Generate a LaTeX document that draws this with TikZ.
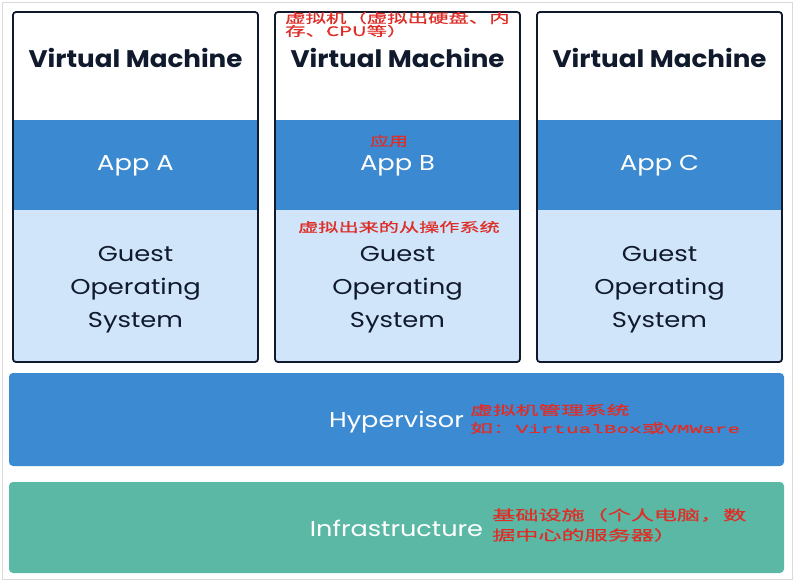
\documentclass[tikz,border=0pt]{standalone}
\usepackage{fontspec}
\usepackage{graphicx}
\newfontfamily\pop{Poppins}
\newfontfamily\cjk[FakeBold=0.6]{Noto Sans CJK SC}
\newfontfamily\mono[FakeBold=0.6]{Liberation Mono}
\newcommand{\wide}[2]{\scalebox{#1}[1]{#2}}
\definecolor{appblue}{HTML}{3B89D0}
\definecolor{guestblue}{HTML}{D0E5F9}
\definecolor{hyperblue}{HTML}{3C8AD2}
\definecolor{infragreen}{HTML}{5BB8A5}
\definecolor{navy}{HTML}{101A2C}
\definecolor{annot}{HTML}{DE2E28}
\definecolor{frame}{HTML}{DADADA}
\tikzset{
  vmbox/.style={draw=navy, line width=1.8pt, rounded corners=3pt, inner sep=0pt},
  vmtitle/.style={font=\pop\bfseries\fontsize{24}{26}\selectfont, text=navy, inner sep=0pt},
  apptext/.style={font=\pop\fontsize{21.5}{24}\selectfont, text=white, inner sep=0pt},
  guesttext/.style={font=\pop\fontsize{21.5}{33}\selectfont, text=navy, inner sep=0pt},
  bandtext/.style={font=\pop\fontsize{21.5}{24}\selectfont, text=white, inner sep=0pt},
  note/.style={text=annot, inner sep=0pt, align=left},
}
\begin{document}
\begin{tikzpicture}[x=1pt,y=-1pt]
\useasboundingbox (0,0) rectangle (795,584);
\fill[white] (0,0) rectangle (795,584);
\draw[frame, line width=1pt] (2,2) rectangle (792,579);
% virtual machines
\foreach \x/\l/\n in {13/A/a,275/B/b,537/C/c}{
  \begin{scope}
    \clip[rounded corners=3pt] (\x,12) rectangle ++(245,350);
    \fill[white] (\x,12) rectangle ++(245,108);
    \fill[appblue] (\x,120) rectangle ++(245,90);
    \fill[guestblue] (\x,210) rectangle ++(245,152);
  \end{scope}
  \node[vmbox, minimum width=245pt, minimum height=350pt] (box\n) at (\x+122.5,187) {};
  \node[vmtitle] (vm\n) at (\x+122.5,58) {\wide{1.09}{Virtual Machine}};
  \node[apptext] (app\n) at (\x+122.5,166) {\wide{1.2}{App \l}};
  \node[guesttext] (os\n) at (\x+122.5,287.5) {\wide{1.2}{\begin{tabular}{@{}c@{}}Guest\\Operating\\System\end{tabular}}};
}
% hypervisor and infrastructure
\node[fill=hyperblue, rounded corners=4pt, minimum width=775pt, minimum height=93pt, inner sep=0pt] (hyperband) at (396.5,419.5) {};
\node[bandtext] (hyper) at (396.5,422) {\wide{1.19}{Hypervisor}};
\node[fill=infragreen, rounded corners=4pt, minimum width=775pt, minimum height=91pt, inner sep=0pt] (infraband) at (396.5,527.5) {};
\node[bandtext] (infra) at (396.5,528) {\wide{1.19}{Infrastructure}};
% annotations
\node[note, anchor=west] (n1a) at (285,18) {\wide{1.57}{\cjk\fontsize{13}{13}\selectfont 虚拟机（虚拟出硬盘、内}};
\node[note, anchor=west] (n1b) at (285,31) {\wide{1.57}{\cjk\fontsize{13}{13}\selectfont 存、CPU等）}};
\node[note, anchor=west] (n2) at (370,141) {\wide{1.45}{\cjk\fontsize{13}{13}\selectfont 应用}};
\node[note, anchor=west] (n3) at (298,227) {\wide{1.55}{\cjk\fontsize{13}{13}\selectfont 虚拟出来的从操作系统}};
\node[note, anchor=west] (n4a) at (470,410) {\wide{1.75}{\cjk\fontsize{13}{13}\selectfont 虚拟机管理系统}};
\node[note, anchor=west] (n4b) at (470,428) {\wide{1.75}{\cjk\fontsize{13}{13}\selectfont 如：\mono\fontsize{12}{12}\selectfont VirtualBox\cjk\fontsize{13}{13}\selectfont 或\mono\fontsize{12}{12}\selectfont VMWare}};
\node[note, anchor=west] (n5a) at (492,515) {\wide{1.65}{\cjk\fontsize{14}{14}\selectfont 基础设施（个人电脑，数}};
\node[note, anchor=west] (n5b) at (492,535) {\wide{1.65}{\cjk\fontsize{14}{14}\selectfont 据中心的服务器）}};
\end{tikzpicture}
\end{document}
